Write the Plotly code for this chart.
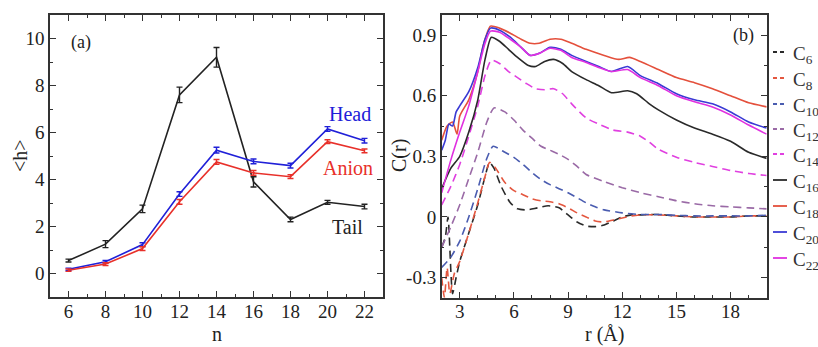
import plotly.graph_objects as go

# ---------------- Panel (a) data ----------------
n_vals = [6, 8, 10, 12, 14, 16, 18, 20, 22]
tail_h = [0.55, 1.25, 2.75, 7.6, 9.2, 3.9, 2.3, 3.03, 2.85]
tail_err = [0.06, 0.15, 0.16, 0.33, 0.42, 0.22, 0.1, 0.08, 0.1]
head_h = [0.18, 0.5, 1.23, 3.38, 5.25, 4.77, 4.59, 6.15, 5.65]
head_err = [0.05, 0.06, 0.08, 0.1, 0.12, 0.1, 0.1, 0.1, 0.1]
anion_h = [0.14, 0.4, 1.06, 3.05, 4.75, 4.28, 4.12, 5.61, 5.22]
anion_err = [0.05, 0.06, 0.08, 0.1, 0.1, 0.1, 0.08, 0.08, 0.08]

# ---------------- Panel (b) data ----------------
r_C6 = [2.0, 2.2, 2.35, 2.6, 2.8, 3.0, 3.5, 4.0, 4.4, 4.65, 4.9, 5.3, 5.8, 6.2, 6.7, 7.3, 7.9, 8.5, 9.0,
        9.5, 10.0, 10.5, 11.0, 11.5, 12.0, 12.5, 13.0, 13.5, 14.0, 15.0, 16.0, 17.0, 18.0, 19.0, 20.0]
c_C6 = [-0.15, -0.1, 0.0, -0.38, -0.3, -0.22, -0.08, 0.06, 0.2, 0.27, 0.24, 0.15, 0.07, 0.04, 0.035, 0.045,
        0.055, 0.045, 0.01, -0.025, -0.045, -0.048, -0.04, -0.02, 0.0, 0.01, 0.01, 0.012, 0.012, 0.005, 0.0,
        0.0, 0.0, 0.005, 0.005]

r_C8 = [2.0, 2.15, 2.3, 2.45, 2.7, 3.0, 3.5, 4.0, 4.4, 4.65, 5.0, 5.5, 6.0, 6.5, 7.0, 7.5, 8.0, 8.5, 9.0,
        9.5, 10.0, 10.5, 11.0, 11.5, 12.0, 12.5, 13.0, 14.0, 15.0, 16.0, 17.0, 18.0, 19.0, 20.0]
c_C8 = [-0.3, -0.4, -0.25, -0.38, -0.28, -0.22, -0.08, 0.07, 0.2, 0.27, 0.24, 0.17, 0.13, 0.11, 0.09, 0.08,
        0.075, 0.065, 0.045, 0.02, 0.0, -0.02, -0.025, -0.015, -0.005, 0.005, 0.01, 0.01, 0.005, 0.0, 0.0,
        0.0, 0.005, 0.005]

r_C10 = [2.0, 2.5, 3.0, 3.5, 4.0, 4.5, 4.85, 5.5, 6.0, 6.5, 7.0, 7.5, 8.0, 8.5, 9.0, 9.5, 10.0, 10.5, 11.0,
         12.0, 13.0, 14.0, 15.0, 16.0, 17.0, 18.0, 19.0, 20.0]
c_C10 = [-0.25, -0.2, -0.12, 0.0, 0.14, 0.29, 0.35, 0.32, 0.295, 0.26, 0.22, 0.185, 0.16, 0.14, 0.12, 0.095,
         0.07, 0.05, 0.035, 0.02, 0.012, 0.012, 0.008, 0.005, 0.005, 0.005, 0.005, 0.008]

r_C12 = [2.0, 2.5, 3.0, 3.5, 4.0, 4.5, 4.9, 5.5, 6.0, 6.5, 7.0, 7.5, 8.0, 8.5, 9.0, 9.5, 10.0, 11.0, 12.0,
         13.0, 14.0, 15.0, 16.0, 17.0, 18.0, 19.0, 20.0]
c_C12 = [-0.15, -0.05, 0.06, 0.19, 0.32, 0.47, 0.54, 0.52, 0.48, 0.43, 0.39, 0.35, 0.33, 0.31, 0.285, 0.25,
         0.21, 0.175, 0.145, 0.12, 0.1, 0.08, 0.065, 0.055, 0.05, 0.045, 0.04]

r_C14 = [2.0, 2.5, 3.0, 3.5, 4.0, 4.4, 4.75, 5.2, 5.7, 6.2, 6.7, 7.2, 7.7, 8.2, 8.7, 9.2, 10.0, 10.7, 11.5,
         12.3, 13.0, 13.5, 14.0, 15.0, 16.0, 17.0, 18.0, 19.0, 20.0]
c_C14 = [0.06, 0.15, 0.26, 0.4, 0.55, 0.7, 0.777, 0.76, 0.72, 0.69, 0.66, 0.635, 0.63, 0.635, 0.61, 0.56,
         0.49, 0.46, 0.43, 0.42, 0.4, 0.37, 0.335, 0.295, 0.27, 0.25, 0.23, 0.215, 0.205]

r_C16 = [2.0, 2.5, 3.0, 3.5, 4.0, 4.4, 4.75, 5.2, 5.7, 6.2, 6.8, 7.2, 7.7, 8.2, 8.7, 9.2, 10.0, 10.7, 11.4,
         12.3, 12.8, 13.5, 14.0, 15.0, 16.0, 17.0, 18.0, 19.0, 20.0]
c_C16 = [0.14, 0.24, 0.3, 0.42, 0.58, 0.78, 0.89, 0.87, 0.83, 0.79, 0.75, 0.745, 0.77, 0.78, 0.76, 0.72,
         0.68, 0.65, 0.615, 0.625, 0.61, 0.56, 0.53, 0.48, 0.44, 0.41, 0.375, 0.32, 0.29]

r_C18 = [2.0, 2.3, 2.6, 2.85, 3.0, 3.5, 4.0, 4.3, 4.7, 5.2, 5.8, 6.4, 6.9, 7.4, 8.0, 8.6, 9.2, 10.0, 11.0,
         11.8, 12.4, 13.0, 14.0, 15.0, 16.0, 17.0, 18.0, 19.0, 20.0]
c_C18 = [0.38, 0.45, 0.47, 0.41, 0.5, 0.58, 0.72, 0.85, 0.945, 0.935, 0.91, 0.88, 0.86, 0.86, 0.88, 0.88,
         0.86, 0.83, 0.8, 0.78, 0.79, 0.77, 0.73, 0.69, 0.665, 0.635, 0.6, 0.565, 0.545]

r_C20 = [2.0, 2.2, 2.4, 2.6, 2.8, 3.0, 3.5, 4.0, 4.4, 4.7, 5.2, 5.8, 6.4, 6.9, 7.4, 8.0, 8.6, 9.2, 10.0,
         10.7, 11.4, 12.3, 13.0, 14.0, 15.0, 16.0, 17.0, 18.0, 19.0, 20.0]
c_C20 = [0.33, 0.38, 0.46, 0.45, 0.52, 0.55, 0.62, 0.74, 0.88, 0.935, 0.925, 0.89, 0.84, 0.8, 0.81, 0.84,
         0.83, 0.8, 0.77, 0.745, 0.72, 0.745, 0.7, 0.66, 0.61, 0.58, 0.56, 0.52, 0.47, 0.44]

r_C22 = [2.0, 2.5, 3.0, 3.5, 4.0, 4.4, 4.7, 5.2, 5.8, 6.4, 6.9, 7.4, 8.0, 8.6, 9.2, 10.0, 10.7, 11.4, 12.3,
         13.0, 14.0, 15.0, 16.0, 17.0, 18.0, 19.0, 20.0]
c_C22 = [0.12, 0.28, 0.42, 0.55, 0.72, 0.86, 0.92, 0.915, 0.88, 0.84, 0.8, 0.81, 0.835, 0.825, 0.79, 0.765,
         0.74, 0.72, 0.73, 0.69, 0.65, 0.6, 0.57, 0.545, 0.505, 0.455, 0.41]

series_b = [
    ("6", r_C6, c_C6, "#2a2a2a", "dash"),
    ("8", r_C8, c_C8, "#e4573f", "dash"),
    ("10", r_C10, c_C10, "#4a5cb0", "dash"),
    ("12", r_C12, c_C12, "#9a6aa6", "dash"),
    ("14", r_C14, c_C14, "#e040e0", "dash"),
    ("16", r_C16, c_C16, "#2a2a2a", "solid"),
    ("18", r_C18, c_C18, "#e4503c", "solid"),
    ("20", r_C20, c_C20, "#3a3ad4", "solid"),
    ("22", r_C22, c_C22, "#e030e0", "solid"),
]

FONT = "'Liberation Serif', 'Times New Roman', Times, 'DejaVu Serif', serif"
W, H = 818, 347

fig = go.Figure()

# Panel (a)
for y, e, col, name in [(tail_h, tail_err, "#222222", "Tail"),
                        (head_h, head_err, "#2020d8", "Head"),
                        (anion_h, anion_err, "#e8302a", "Anion")]:
    fig.add_trace(go.Scatter(
        x=n_vals, y=y, mode="lines", name=name, showlegend=False,
        line=dict(color=col, width=1.6),
        error_y=dict(type="data", array=e, color=col, thickness=1.4, width=3),
        xaxis="x", yaxis="y"))

# Panel (b)
for lab, rr, cc, col, dash in series_b:
    fig.add_trace(go.Scatter(
        x=rr, y=cc, mode="lines", name="C" + lab, showlegend=False,
        line=dict(color=col, width=1.6, dash=("8px,5px" if dash == "dash" else "solid"),
                  shape="spline", smoothing=0.6),
        xaxis="x2", yaxis="y2"))

def px2x(px):
    return px / W

def px2y(py):
    return 1 - py / H

axis_common = dict(showline=True, linecolor="#333333", linewidth=1.5, mirror="allticks",
                   ticks="inside", ticklen=6, tickwidth=1.3, tickcolor="#333333",
                   showgrid=False, zeroline=False,
                   tickfont=dict(family=FONT, size=19, color="#222222"))

minor_common = dict(ticks="inside", ticklen=3, tickcolor="#333333")

fig.update_layout(
    width=W, height=H,
    margin=dict(l=0, r=0, t=0, b=0),
    paper_bgcolor="white", plot_bgcolor="white",
    font=dict(family=FONT, size=19, color="#222222"),
    xaxis=dict(domain=[px2x(50), px2x(383)], range=[5, 23], tickvals=[6, 8, 10, 12, 14, 16, 18, 20, 22],
               minor=dict(dtick=1, tick0=0, **minor_common), ticklabelstandoff=-4,
               anchor="y", **axis_common),
    yaxis=dict(domain=[px2y(297), px2y(15)], range=[-1, 11], tickvals=[0, 2, 4, 6, 8, 10],
               minor=dict(dtick=1, tick0=0, **minor_common),
               anchor="x", **axis_common),
    xaxis2=dict(domain=[px2x(441.7), px2x(766.7)], range=[2, 20], tickvals=[3, 6, 9, 12, 15, 18],
                minor=dict(dtick=1, tick0=0, **minor_common), ticklabelstandoff=-4,
                anchor="y2", **axis_common),
    yaxis2=dict(domain=[px2y(297.7), px2y(15)], range=[-0.4, 1.0],
                tickvals=[-0.3, 0, 0.3, 0.6, 0.9], ticktext=["-0.3", "0", "0.3", "0.6", "0.9"],
                minor=dict(dtick=0.15, tick0=0, **minor_common),
                anchor="x2", **axis_common),
)

def txt(size, color="#222222"):
    return dict(family=FONT, size=size, color=color)

annotations = [
    # axis titles
    dict(x=px2x(20), y=px2y(156), xref="paper", yref="paper", text="&lt;h&gt;", textangle=-90,
         xanchor="center", yanchor="middle", showarrow=False, font=txt(20)),
    dict(x=px2x(217), y=px2y(334), xref="paper", yref="paper", text="n",
         xanchor="center", yanchor="middle", showarrow=False, font=txt(20)),
    dict(x=px2x(399), y=px2y(156), xref="paper", yref="paper", text="C(r)", textangle=-90,
         xanchor="center", yanchor="middle", showarrow=False, font=txt(20)),
    dict(x=px2x(604), y=px2y(334), xref="paper", yref="paper", text="r (Å)",
         xanchor="center", yanchor="middle", showarrow=False, font=txt(20)),
    # panel labels
    dict(x=6.05, y=9.85, xref="x", yref="y", text="(a)", showarrow=False, xanchor="left", font=txt(18)),
    dict(x=21.2, y=6.8, xref="x", yref="y", text="Head", showarrow=False, font=txt(20, "#2020d8")),
    dict(x=21.1, y=4.5, xref="x", yref="y", text="Anion", showarrow=False, font=txt(20, "#e8302a")),
    dict(x=21.1, y=2.0, xref="x", yref="y", text="Tail", showarrow=False, font=txt(20)),
    dict(x=18.7, y=0.9, xref="x2", yref="y2", text="(b)", showarrow=False, font=txt(18)),
]

# manual legend for panel (b)
leg_y = [52, 78, 104, 129, 154, 180, 206, 232, 258]
shapes = []
for (lab, rr, cc, col, dash), py in zip(series_b, leg_y):
    shapes.append(dict(type="line", xref="paper", yref="paper",
                       x0=px2x(773), x1=px2x(787), y0=px2y(py), y1=px2y(py),
                       line=dict(color=col, width=1.8, dash=("4px,3px" if dash == "dash" else "solid"))))
    annotations.append(dict(x=px2x(791), y=px2y(py + 3), xref="paper", yref="paper",
                            text="C<sub>" + lab + "</sub>", showarrow=False, xanchor="left",
                            yanchor="middle", font=txt(19, "#333333")))

fig.update_layout(annotations=annotations, shapes=shapes)

fig.write_html("out.html")
